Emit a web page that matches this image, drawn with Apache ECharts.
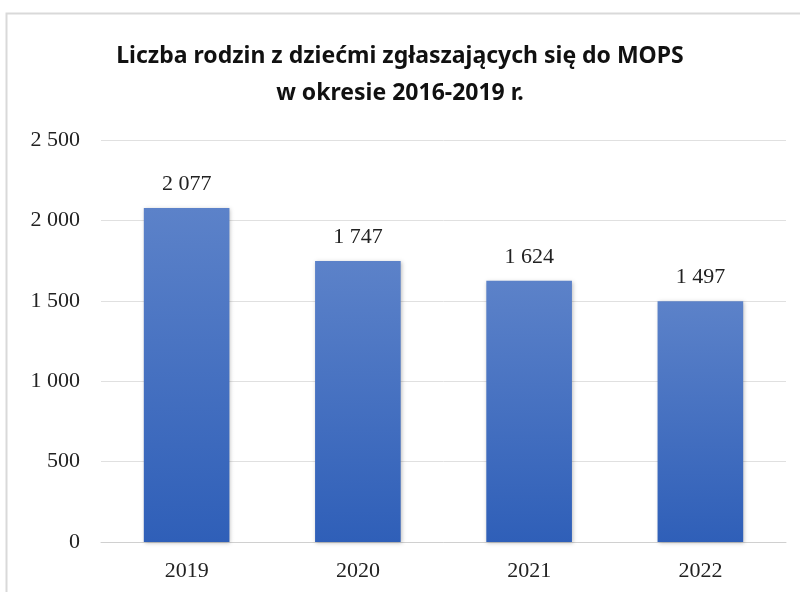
<!DOCTYPE html>
<html lang="pl">
<head>
  <meta charset="UTF-8">
  <title>Liczba rodzin</title>
  <script src="https://cdn.jsdelivr.net/npm/echarts@6/dist/echarts.min.js"></script>
  <style>
    html, body { margin: 0; padding: 0; background: #fff; }
    #main { width: 800px; height: 592px; }
  </style>
</head>
<body>
  <div id="main"></div>
  <script>
    // dane
    var years = ['2019', '2020', '2021', '2022'];
    var families = [2077, 1747, 1624, 1497];
    var yTicks = [0, 500, 1000, 1500, 2000, 2500];

    // "2 077" - spacja jako separator tysięcy
    function fmt(v) {
      return String(v).replace(/\B(?=(\d{3})+(?!\d))/g, ' ');
    }

    var myChart = echarts.init(document.getElementById('main'));
    var option = {
      backgroundColor: '#fff',
      animation: false,
      title: {
        text: 'Liczba rodzin z dziećmi zgłaszających się do MOPS\nw okresie 2016-2019 r.',
        left: 'center',
        top: 33,
        textStyle: {
          fontFamily: '"Liberation Sans Narrow", "Noto Sans", sans-serif',
          fontSize: 23,
          fontWeight: 'bold',
          color: '#111',
          lineHeight: 37
        }
      },
      graphic: [{
        type: 'rect',
        shape: { x: 6.5, y: 13.5, width: 820, height: 620 },
        style: { fill: 'none', stroke: '#d9d9d9', lineWidth: 2 },
        silent: true
      }],
      grid: { left: 101, right: 14, top: 140, bottom: 50 },
      xAxis: {
        type: 'category',
        data: years,
        axisLine: { lineStyle: { color: '#d0d0d0', width: 1 } },
        axisTick: { show: false },
        axisLabel: {
          fontFamily: '"Liberation Serif", serif',
          fontSize: 22,
          color: '#222',
          margin: 18
        }
      },
      yAxis: {
        type: 'value',
        min: yTicks[0],
        max: yTicks[yTicks.length - 1],
        interval: 500,
        axisLine: { show: false },
        axisTick: { show: false },
        splitLine: { lineStyle: { color: '#e0e0e0', width: 1 } },
        axisLabel: {
          fontFamily: '"Liberation Serif", serif',
          fontSize: 22,
          color: '#222',
          margin: 21,
          formatter: fmt
        }
      },
      series: [{
        type: 'bar',
        data: families,
        barWidth: '50%',
        itemStyle: {
          color: new echarts.graphic.LinearGradient(0, 0, 0, 1, [
            { offset: 0, color: '#5c82c9' },
            { offset: 1, color: '#2f5fb8' }
          ]),
          shadowColor: 'rgba(0,0,0,0.25)',
          shadowBlur: 4,
          shadowOffsetX: 1,
          shadowOffsetY: 1
        },
        label: {
          show: true,
          position: 'top',
          distance: 13,
          fontFamily: '"Liberation Serif", serif',
          fontSize: 22,
          color: '#222',
          formatter: function (p) { return fmt(p.value); }
        }
      }]
    };
    myChart.setOption(option);
  </script>
</body>
</html>
